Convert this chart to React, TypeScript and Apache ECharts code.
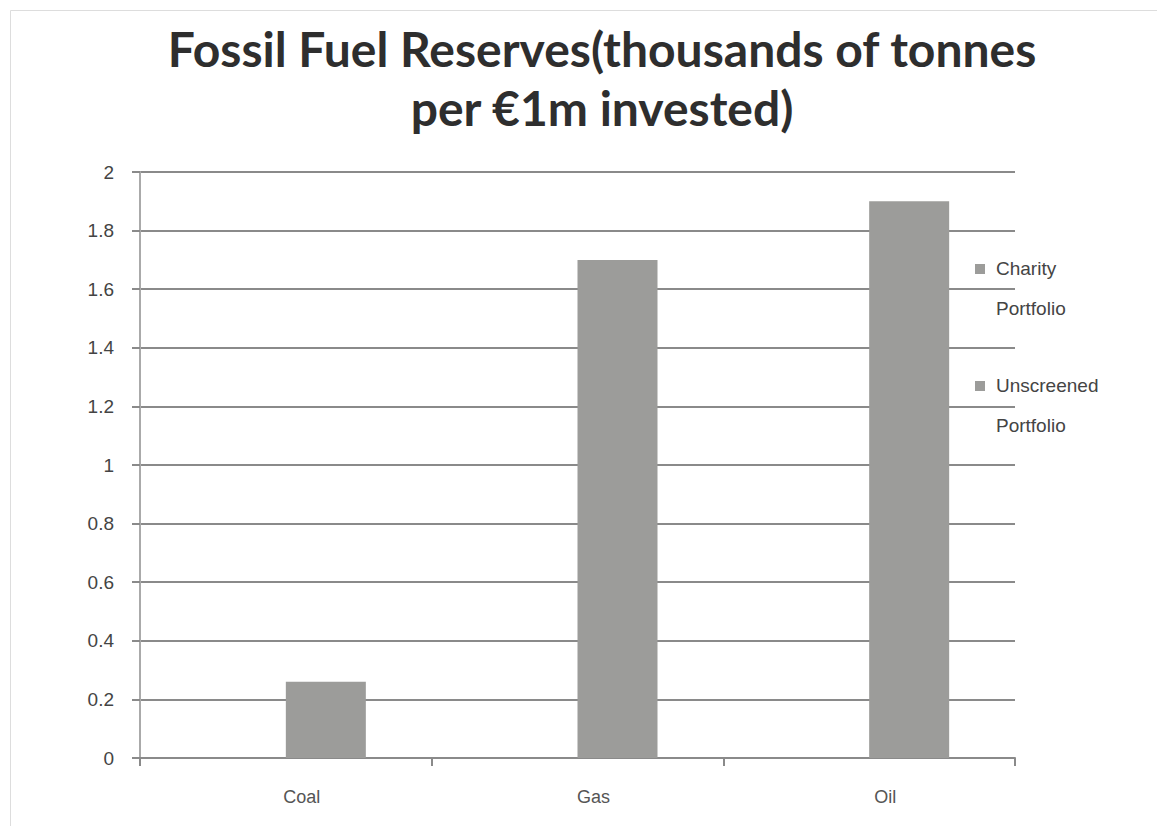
import React, { useEffect, useRef } from "react";
import * as echarts from "echarts";

const categories = ["Coal", "Gas", "Oil"];
const charityValues = [0, 0, 0];
const unscreenedValues = [0.26, 1.7, 1.9];
const seriesNames = ["Charity Portfolio", "Unscreened Portfolio"];
const titleText = "Fossil Fuel Reserves(thousands of tonnes\nper €1m invested)";

export default function App() {
  const ref = useRef<HTMLDivElement>(null);
  useEffect(() => {
    if (!ref.current) return;
    const chart = echarts.init(ref.current, undefined, { renderer: "svg" });
    chart.setOption({
      animation: false,
      backgroundColor: "#ffffff",
      title: {
        text: titleText,
        left: 589,
        top: 6,
        textAlign: "center",
        textStyle: {
          fontFamily: "Lato, 'Liberation Sans', sans-serif",
          fontWeight: "bold",
          fontSize: 48,
          lineHeight: 59,
          color: "#2e2e2e",
        },
      },
      legend: {
        orient: "vertical",
        left: 962,
        top: 235,
        itemWidth: 10,
        itemHeight: 50,
        itemGap: 37,
        icon: "path://M0,0H10V10H0Z M0,48L0,48Z",
        formatter: (name: string) => name.replace(" ", "\n"),
        textStyle: {
          fontFamily: "'Liberation Sans', sans-serif",
          fontSize: 19,
          lineHeight: 40,
          color: "#444",
          padding: [0, 0, 0, 6],
        },
      },
      grid: { left: 132, right: 142, top: 164, bottom: 68 },
      xAxis: {
        type: "category",
        data: categories,
        axisLine: { lineStyle: { color: "#8a8a8a", width: 2 } },
        axisTick: { show: true, length: 8, lineStyle: { color: "#8a8a8a", width: 2 } },
        axisLabel: {
          margin: 30,
          fontSize: 18,
          fontFamily: "'Liberation Sans', sans-serif",
          color: "#555",
          padding: [0, 0, 0, 32],
        },
      },
      yAxis: {
        type: "value",
        min: 0,
        max: 2,
        interval: 0.2,
        axisLine: { show: true, lineStyle: { color: "#aaaaaa", width: 2 } },
        axisTick: { show: true, length: 8, lineStyle: { color: "#8a8a8a", width: 2 } },
        splitLine: { lineStyle: { color: "#8a8a8a", width: 2 } },
        axisLabel: {
          margin: 26,
          fontSize: 19,
          fontFamily: "'Liberation Sans', sans-serif",
          color: "#444",
          formatter: (v: number) => String(Math.round(v * 10) / 10),
        },
      },
      series: [
        {
          name: seriesNames[0],
          type: "bar",
          data: charityValues,
          barWidth: 80,
          barGap: "0%",
          itemStyle: { color: "#9c9c9a" },
        },
        {
          name: seriesNames[1],
          type: "bar",
          data: unscreenedValues,
          barWidth: 80,
          barGap: "0%",
          itemStyle: { color: "#9c9c9a" },
        },
      ],
      graphic: [
        {
          type: "rect",
          left: 0,
          top: 0,
          shape: { x: 0, y: 0, width: 1148, height: 817 },
          style: { fill: "none", stroke: "#dddddd", lineWidth: 1 },
          silent: true,
        },
      ],
    });
    return () => chart.dispose();
  }, []);
  return <div ref={ref} style={{ width: 1149, height: 818 }} />;
}
